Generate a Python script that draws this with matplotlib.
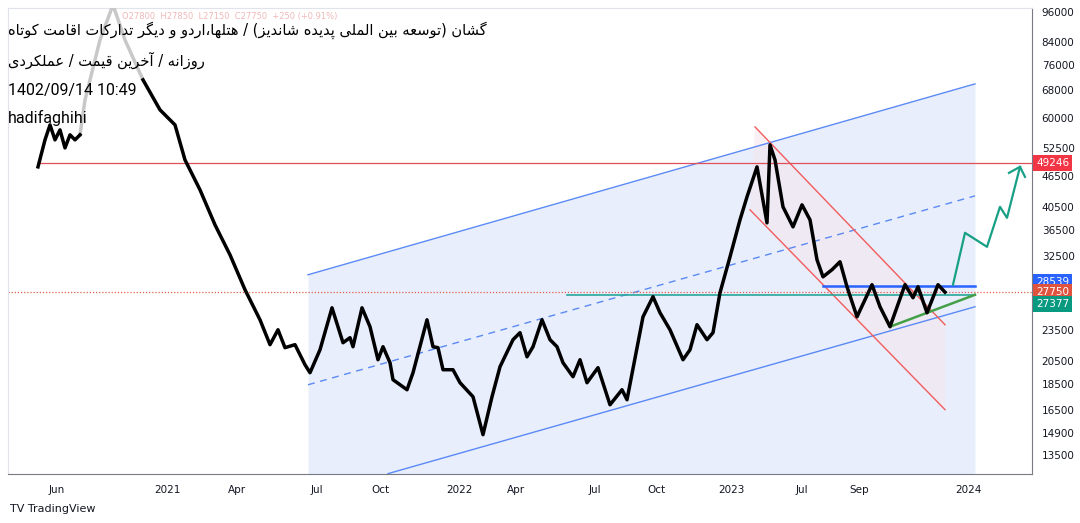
import matplotlib.pyplot as plt
import matplotlib.transforms as mtransforms
from matplotlib.ticker import FixedLocator, NullLocator

# ---- data (x = bar position on the time axis, prices in rial) ----
px = [38, 45, 50, 55, 60, 65, 70, 75, 80, 85, 100, 113, 125, 143, 160, 175, 185, 200, 215, 230,
      245, 260, 270, 278, 285, 295, 305, 310, 320, 332, 343, 350, 353, 362, 370, 378, 383, 390, 393, 407,
      413, 427, 433, 438, 443, 453, 460, 473, 483, 492, 500, 513, 520, 527, 533, 542, 550, 557, 563, 573,
      580, 587, 598, 610, 622, 627, 643, 653, 660, 670, 683, 690, 697, 707, 713, 720, 730, 740, 747, 757,
      767, 770, 775, 783, 793, 802, 810, 817, 823, 832, 840, 847, 857, 872, 880, 890, 905, 913, 918, 927,
      938, 945]
price = [48340, 54480, 58210, 54480, 56940, 52570, 55700, 54480, 55700, 65030, 84800, 99070, 84800, 71060, 62220, 58210, 49850, 43660, 37390, 32740,
         28050, 24550, 21990, 23490, 21700, 21990, 20120, 19420, 21500, 25890, 22180, 22680, 21790, 25890, 23810, 20570, 21790, 20300, 18830, 18010,
         19420, 24550, 21790, 21700, 19680, 19680, 18580, 17460, 14760, 17460, 19940, 22480, 23190, 20840, 21790, 24550, 22480, 21790, 20300, 19080,
         20570, 18580, 19860, 16850, 18010, 17230, 24880, 27190, 25330, 23490, 20570, 21500, 24020, 22480, 23190, 27680, 32450, 38230, 42320, 48340,
         37720, 53280, 49850, 40490, 37060, 40850, 38230, 32030, 29700, 30650, 31750, 28420, 24880, 28680, 26010, 23810, 28680, 27070, 28420, 25330,
         28680, 27750]

chan_x = [308, 975]
chan_upper = [29970, 69810]
chan_mid = [18410, 42510]
chan_lower_x = [388, 975]
chan_lower = [12420, 26010]
red_up_x, red_up = [755, 945], [57700, 24020]
red_lo_x, red_lo = [750, 945], [39960, 16490]
trend_x, trend_y = [890, 975], [23810, 27430]
proj_x = [953, 965, 987, 1000, 1007, 1020]
proj_y = [28680, 36090, 33920, 40490, 38570, 48340]
arrow_x = [1009, 1020, 1025]
arrow_y = [47070, 48340, 46250]

level_res = 49246
level_blue = 28539
level_last = 27750
level_green = 27377

yticks = [96000, 84000, 76000, 68000, 60000, 52500, 46500, 40500, 36500, 32500,
          23500, 20500, 18500, 16500, 14900, 13500]
xtick_pos = [57, 167, 237, 317, 380, 459, 516, 595, 656, 731, 802, 859, 968]
xtick_lab = ['Jun', '2021', 'Apr', 'Jul', 'Oct', '2022', 'Apr', 'Jul', 'Oct', '2023', 'Jul', 'Sep', '2024']

title1 = 'گشان (توسعه بین الملی پدیده شاندیز) / هتلها،اردو و دیگر تدارکات اقامت کوتاه'
title2 = 'روزانه / آخرین قیمت / عملکردی'

# ---- tiny Persian shaper (presentation forms + RTL order) ----
FORMS = {  # isolated, final, initial, medial
    'ا': ('\uFE8D', '\uFE8E', None, None), 'آ': ('\uFE81', '\uFE82', None, None),
    'د': ('\uFEA9', '\uFEAA', None, None), 'ر': ('\uFEAD', '\uFEAE', None, None),
    'ز': ('\uFEAF', '\uFEB0', None, None), 'و': ('\uFEED', '\uFEEE', None, None),
    'ب': ('\uFE8F', '\uFE90', '\uFE91', '\uFE92'), 'پ': ('\uFB56', '\uFB57', '\uFB58', '\uFB59'),
    'ت': ('\uFE95', '\uFE96', '\uFE97', '\uFE98'), 'خ': ('\uFEA5', '\uFEA6', '\uFEA7', '\uFEA8'),
    'س': ('\uFEB1', '\uFEB2', '\uFEB3', '\uFEB4'), 'ش': ('\uFEB5', '\uFEB6', '\uFEB7', '\uFEB8'),
    'ع': ('\uFEC9', '\uFECA', '\uFECB', '\uFECC'), 'ق': ('\uFED5', '\uFED6', '\uFED7', '\uFED8'),
    'ک': ('\uFB8E', '\uFB8F', '\uFB90', '\uFB91'), 'گ': ('\uFB92', '\uFB93', '\uFB94', '\uFB95'),
    'ل': ('\uFEDD', '\uFEDE', '\uFEDF', '\uFEE0'), 'م': ('\uFEE1', '\uFEE2', '\uFEE3', '\uFEE4'),
    'ن': ('\uFEE5', '\uFEE6', '\uFEE7', '\uFEE8'), 'ه': ('\uFEE9', '\uFEEA', '\uFEEB', '\uFEEC'),
    'ی': ('\uFBFC', '\uFBFD', '\uFBFE', '\uFBFF'),
}


def shape(s):
    out = []
    for i, c in enumerate(s):
        if c not in FORMS:
            out.append(c)
            continue
        f = FORMS[c]
        prev = s[i - 1] if i > 0 else ''
        nxt = s[i + 1] if i + 1 < len(s) else ''
        jp = prev in FORMS and FORMS[prev][2] is not None
        jn = nxt in FORMS and f[2] is not None
        if jp and jn:
            out.append(f[3])
        elif jp:
            out.append(f[1])
        elif jn:
            out.append(f[2])
        else:
            out.append(f[0])
    swap = {'(': ')', ')': '('}
    return ''.join(swap.get(c, c) for c in reversed(out))


# ---- figure ----
W, H = 1080, 523
fig = plt.figure(figsize=(W / 100, H / 100), dpi=100)
fig.set_facecolor('white')
ax = fig.add_axes([8 / W, 1 - 474 / H, (1032 - 8) / W, (474 - 8) / H])
ax.set_yscale('log')
ax.set_xlim(8, 1032)
ax.set_ylim(12400, 97700)

# channel fill and lines
ax.fill_between(chan_x, chan_upper, [12000, 12000], color='#e8eefc', lw=0, zorder=0)
ax.plot(chan_x, chan_upper, color='#5b8af5', lw=1)
ax.plot(chan_x, chan_mid, color='#5b8af5', lw=1, ls=(0, (5, 4)))
ax.plot(chan_lower_x, chan_lower, color='#5b8af5', lw=1)

# red falling channel
ax.fill([red_up_x[0], red_up_x[1], red_lo_x[1], red_lo_x[0]],
        [red_up[0], red_up[1], red_lo[1], red_lo[0]], color='#f5e6f0', alpha=0.6, lw=0, zorder=0)
ax.plot(red_up_x, red_up, color='#f25c5c', lw=1)
ax.plot(red_lo_x, red_lo, color='#f25c5c', lw=1)

# levels
ax.plot([38, 1032], [level_res, level_res], color='#e0505a', lw=0.9)
ax.axhline(level_last, color='#e0604a', lw=0.9, ls=(0, (1, 1.5)))
ax.plot([567, 975], [level_green, level_green], color='#26a69a', lw=1.2)
ax.plot([823, 975], [level_blue, level_blue], color='#2962ff', lw=1.8)
ax.plot(trend_x, trend_y, color='#43a047', lw=1.8)

# price: faded part behind the header text, black elsewhere
i0, i1 = px.index(80), px.index(143)
ax.plot(px[:i0 + 1], price[:i0 + 1], color='black', lw=2.5, solid_joinstyle='round', zorder=5)
ax.plot(px[i0:i1 + 1], price[i0:i1 + 1], color='#c8c8c8', lw=2.5, solid_joinstyle='round', zorder=4)
ax.plot(px[i1:], price[i1:], color='black', lw=2.5, solid_joinstyle='round', zorder=5)

# projection
ax.plot(proj_x, proj_y, color='#17a085', lw=1.6, zorder=6)
ax.plot(arrow_x, arrow_y, color='#17a085', lw=1.6, zorder=6)

# axes styling
for s in ['top', 'left']:
    ax.spines[s].set_color('#e0e3eb')
ax.spines['right'].set_color('#787b86')
ax.spines['bottom'].set_color('#787b86')
ax.yaxis.tick_right()
ax.yaxis.set_major_locator(FixedLocator(yticks))
ax.yaxis.set_minor_locator(NullLocator())
ax.set_yticklabels([str(v) for v in yticks])
ax.set_xticks(xtick_pos)
ax.set_xticklabels(xtick_lab)
ax.tick_params(length=0, labelsize=7.5, labelcolor='#131722', pad=8)
ax.tick_params(axis='y', pad=7)

# price badges (nudged so they stack like the reference)
tr = mtransforms.blended_transform_factory(ax.transAxes, ax.transData)
for val, col, dy in [(level_res, '#f23645', 0), (level_blue, '#2962ff', 3),
                     (level_last, '#e0533f', 0), (level_green, '#089981', -6.5)]:
    ax.annotate(str(val), (1.004, val), xycoords=tr, xytext=(0, dy), textcoords='offset points',
                color='white', fontsize=7.5, va='center', ha='left', zorder=10, annotation_clip=False,
                bbox=dict(boxstyle='square,pad=0.3', fc=col, ec='none'))

# header text
fig.text(122 / W, 1 - 17 / H, 'O27800  H27850  L27150  C27750  +250 (+0.91%)',
         fontsize=6, color='#f0b8b8', va='center')
fig.text(8 / W, 1 - 30 / H, shape(title1), fontsize=10.5, ha='left', va='center', family='DejaVu Sans')
fig.text(8 / W, 1 - 60 / H, shape(title2), fontsize=10.5, ha='left', va='center', family='DejaVu Sans')
fig.text(8 / W, 1 - 91 / H, '1402/09/14 10:49', fontsize=11.5, va='center', family='Roboto')
fig.text(8 / W, 1 - 118 / H, 'hadifaghihi', fontsize=11.5, va='center', family='Roboto')
fig.text(10 / W, 1 - 509 / H, 'TV TradingView', fontsize=8, va='center', color='#131722')

fig.savefig('out.png', dpi=100)
